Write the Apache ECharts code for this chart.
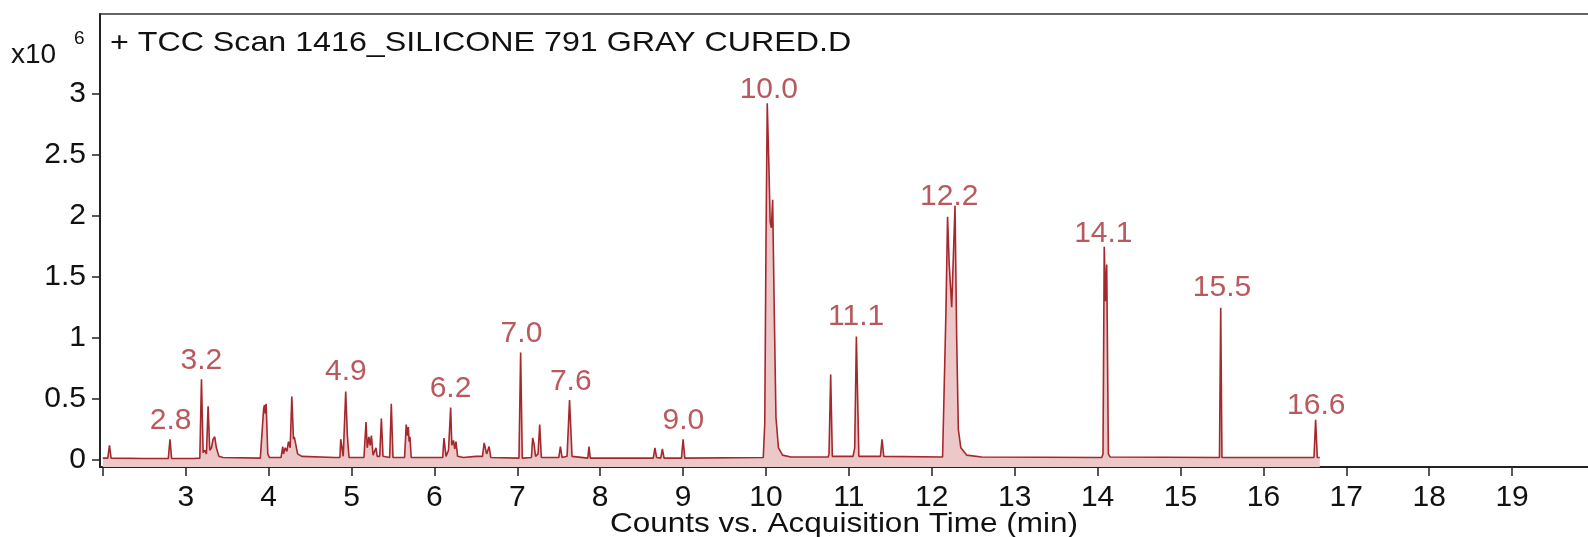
<!DOCTYPE html>
<html>
<head>
<meta charset="utf-8">
<script src="https://cdn.jsdelivr.net/npm/echarts@6/dist/echarts.min.js"></script>
<style>html,body{margin:0;padding:0;background:#fff;}#c{width:1588px;height:537px;}</style>
</head>
<body>
<div id="c"></div>
<script>
// Retention time (min) and abundance (x10^6 counts)
var times = [
  2.00, 2.06, 2.08, 2.10, 2.50, 2.79, 2.81, 2.83, 3.10,
  3.17, 3.19, 3.21, 3.23, 3.25, 3.27, 3.29, 3.31, 3.33, 3.35, 3.37, 3.40, 3.45, 3.90,
  3.92, 3.94, 3.95, 3.96, 3.97, 3.99, 4.01, 4.15,
  4.16, 4.17, 4.18, 4.20, 4.22, 4.24, 4.26, 4.28, 4.30, 4.31, 4.33, 4.35, 4.40, 4.80,
  4.86, 4.87, 4.885, 4.90, 4.93, 4.95, 4.97, 5.15,
  5.16, 5.175, 5.19, 5.21, 5.225, 5.24, 5.26, 5.28, 5.295, 5.31, 5.34, 5.36, 5.38,
  5.46, 5.48, 5.50,
  5.64, 5.66, 5.675, 5.685, 5.695, 5.705, 5.72,
  6.10, 6.115, 6.14, 6.17, 6.196, 6.21, 6.23, 6.245, 6.26, 6.28, 6.35,
  6.50, 6.58, 6.60, 6.63, 6.66, 6.68,
  7.02, 7.04, 7.06,
  7.17, 7.185, 7.20, 7.22, 7.25, 7.27, 7.29,
  7.50, 7.52, 7.54, 7.60, 7.63, 7.66,
  7.85, 7.865, 7.88,
  8.64, 8.66, 8.68, 8.73, 8.75, 8.77,
  8.98, 9.00, 9.02,
  9.967, 9.985, 10.00, 10.015, 10.035, 10.05, 10.065, 10.08, 10.10, 10.12, 10.15, 10.20, 10.30,
  10.75, 10.76, 10.78, 10.80, 10.82,
  11.05, 11.07, 11.09, 11.12,
  11.38, 11.40, 11.42,
  12.13, 12.15, 12.17, 12.19, 12.21, 12.24, 12.28, 12.30, 12.32, 12.35, 12.42, 12.60,
  14.05, 14.065, 14.08, 14.095, 14.11, 14.13, 14.15,
  15.47, 15.485, 15.50,
  16.61, 16.63, 16.65, 16.68
];
var abundance = [
  0.015, 0.015, 0.12, 0.015, 0.012, 0.012, 0.17, 0.012, 0.012,
  0.015, 0.66, 0.06, 0.08, 0.05, 0.44, 0.08, 0.10, 0.17, 0.19, 0.10, 0.03, 0.02, 0.015,
  0.03, 0.42, 0.45, 0.38, 0.46, 0.05, 0.02, 0.02,
  0.02, 0.11, 0.05, 0.10, 0.07, 0.15, 0.10, 0.52, 0.17, 0.19, 0.12, 0.05, 0.03, 0.02,
  0.02, 0.17, 0.18, 0.03, 0.56, 0.20, 0.02, 0.02,
  0.02, 0.31, 0.10, 0.19, 0.12, 0.20, 0.04, 0.05, 0.10, 0.03, 0.03, 0.34, 0.03,
  0.02, 0.46, 0.02,
  0.02, 0.29, 0.20, 0.27, 0.15, 0.19, 0.02,
  0.02, 0.18, 0.03, 0.08, 0.43, 0.12, 0.16, 0.09, 0.15, 0.03, 0.02,
  0.03, 0.03, 0.14, 0.05, 0.11, 0.02,
  0.015, 0.88, 0.015,
  0.02, 0.18, 0.14, 0.03, 0.05, 0.29, 0.02,
  0.02, 0.11, 0.02, 0.03, 0.49, 0.03,
  0.015, 0.11, 0.015,
  0.015, 0.10, 0.02, 0.015, 0.09, 0.015,
  0.015, 0.17, 0.015,
  0.02, 0.30, 1.80, 2.92, 2.40, 1.95, 1.90, 2.13, 1.20, 0.35, 0.10, 0.04, 0.025,
  0.025, 0.05, 0.70, 0.03, 0.03,
  0.03, 0.10, 1.01, 0.03,
  0.03, 0.17, 0.03,
  0.025, 0.04, 1.20, 1.99, 1.60, 1.25, 2.08, 1.00, 0.25, 0.10, 0.04, 0.025,
  0.02, 0.05, 1.745, 1.30, 1.60, 0.05, 0.025,
  0.02, 1.245, 0.02,
  0.02, 0.33, 0.02, 0.02
];
// Peak annotations: label text, time, label anchor height (x10^6)
var peakLabels = ["2.8", "3.2", "4.9", "6.2", "7.0", "7.6", "9.0", "10.0", "11.1", "12.2", "14.1", "15.5", "16.6"];
var peakLabelTimes = [2.817, 3.188, 4.931, 6.194, 7.05, 7.645, 9.003, 10.034, 11.088, 12.211, 14.069, 15.50, 16.638];
var peakLabelHeights = [0.245, 0.736, 0.641, 0.505, 0.957, 0.565, 0.245, 2.952, 1.091, 2.073, 1.778, 1.336, 0.368];
// Axis ticks
var xTickValues = [2, 3, 4, 5, 6, 7, 8, 9, 10, 11, 12, 13, 14, 15, 16, 17, 18, 19];
var xLabelValues = [3, 4, 5, 6, 7, 8, 9, 10, 11, 12, 13, 14, 15, 16, 17, 18, 19];
var yTickValues = [0, 0.5, 1, 1.5, 2, 2.5, 3];

var FONT = '"Liberation Sans", Arial, Helvetica, sans-serif';
var trace = times.map(function (t, i) { return [t, abundance[i]]; });
var labelData = peakLabels.map(function (s, i) { return { value: [peakLabelTimes[i], peakLabelHeights[i]], name: s }; });

var chart = echarts.init(document.getElementById('c'), null, { renderer: 'canvas' });
chart.setOption({
  animation: false,
  backgroundColor: '#ffffff',
  grid: { left: 100, top: 14, right: -7, bottom: 70, containLabel: false, outerBoundsMode: 'none',
    show: true, borderColor: '#333', borderWidth: 1.5, backgroundColor: 'transparent' },
  xAxis: {
    type: 'value', min: 1.966, max: 20,
    axisLine: { show: true, onZero: false, lineStyle: { color: '#222', width: 2 } },
    axisTick: { show: true, inside: false, length: 9, customValues: xTickValues, lineStyle: { color: '#222', width: 1.5 } },
    axisLabel: { customValues: xLabelValues, margin: 16, fontFamily: FONT, fontSize: 30, color: '#111' },
    splitLine: { show: false }
  },
  yAxis: {
    type: 'value', min: -0.0573, max: 3.65,
    axisLine: { show: true, onZero: false, lineStyle: { color: '#222', width: 2 } },
    axisTick: { show: true, inside: false, length: 8, customValues: yTickValues, lineStyle: { color: '#222', width: 1.5 } },
    axisLabel: { customValues: yTickValues, margin: 14, fontFamily: FONT, fontSize: 30, color: '#111',
      formatter: function (v) { return String(Math.round(v * 10) / 10); } },
    splitLine: { show: false }
  },
  graphic: [
    { type: 'text', x: 110, y: 43, scaleX: 1.15, scaleY: 1,
      style: { text: '+ TCC Scan 1416_SILICONE 791 GRAY CURED.D', font: '28px ' + FONT, fill: '#111',
        textAlign: 'left', textVerticalAlign: 'middle', align: 'left', verticalAlign: 'middle' } },
    { type: 'text', x: 11, y: 55,
      style: { text: 'x10', font: '28px ' + FONT, fill: '#111', textAlign: 'left', textVerticalAlign: 'middle', align: 'left', verticalAlign: 'middle' } },
    { type: 'text', x: 74, y: 39,
      style: { text: '6', font: '19px ' + FONT, fill: '#111', textAlign: 'left', textVerticalAlign: 'middle', align: 'left', verticalAlign: 'middle' } },
    { type: 'text', x: 844, y: 524, scaleX: 1.125, scaleY: 1,
      style: { text: 'Counts vs. Acquisition Time (min)', font: '28px ' + FONT, fill: '#111',
        textAlign: 'center', textVerticalAlign: 'middle', align: 'center', verticalAlign: 'middle' } }
  ],
  series: [
    {
      type: 'line', data: trace, showSymbol: false, symbol: 'none', smooth: false,
      lineStyle: { color: '#a5282d', width: 1.6 },
      areaStyle: { color: '#ecc8c9', opacity: 1, origin: 'start' },
      z: 2
    },
    {
      type: 'scatter', data: labelData, symbolSize: 1, itemStyle: { color: 'rgba(255,255,255,0)' },
      label: { show: true, position: 'top', distance: 0, offset: [0, 6], formatter: function (p) { return p.name; },
        fontFamily: FONT, fontSize: 30, color: '#a83034' },
      emphasis: { disabled: true },
      z: 3
    }
  ]
});
</script>
</body>
</html>
